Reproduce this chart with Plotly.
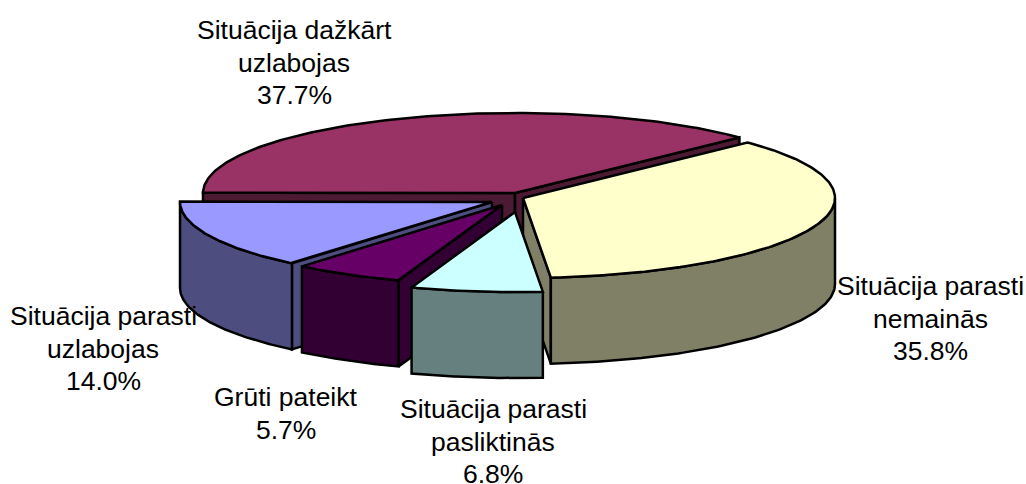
import numpy as np
import plotly.graph_objects as go

# Data: clockwise from the chart's first angle
categories = ["Situācija parasti<br>nemainās", "Situācija parasti<br>pasliktinās", "Grūti pateikt",
              "Situācija parasti<br>uzlabojas", "Situācija dažkārt<br>uzlabojas"]
values = [35.8, 6.8, 5.7, 14.0, 37.7]

# Style
top_colors = ["#FFFFCC", "#CCFFFF", "#660066", "#9999FF", "#993366"]
side_colors = ["#808066", "#668080", "#330033", "#4D4D80", "#4D1A33"]
apex_x = [523, 515, 502, 492, 515]
apex_y = [198, 212, 205, 202, 193]
label_x = [930, 493, 286, 103, 294]
label_top = [286, 409, 397, 316, 30]
LINE_STEP = 32.5
draw_order = [4, 3, 0, 2, 1]
START = 46.0
RX, RY, DEPTH = 312, 80, 86
LW = 2.5

fig = go.Figure()


def poly(xs, ys, color):
    fig.add_trace(go.Scatter(x=list(xs), y=list(ys), mode="lines", fill="toself", fillcolor=color,
                             line=dict(color="black", width=LW), hoverinfo="skip", showlegend=False))


def rim(cx, cy, deg):
    r = np.radians(deg)
    return cx + RX * np.sin(r), cy - RY * np.cos(r)


total = sum(values)
edges = START + np.concatenate([[0], np.cumsum(values)]) * 360 / total

for i in draw_order:
    a, b = edges[i], edges[i + 1]
    cx, cy = apex_x[i], apex_y[i]
    # cut faces that look towards the viewer
    visible = []
    if np.sin(np.radians(a)) < -1e-6:
        visible.append(a)
    if np.sin(np.radians(b)) > 1e-6:
        visible.append(b)
    for ang in visible:
        x, y = rim(cx, cy, ang)
        poly([cx, x, x, cx, cx], [cy, y, y + DEPTH, cy + DEPTH, cy], side_colors[i])
    # outer wall (front half only)
    lo, hi = max(a, 90), min(b, 270)
    if hi > lo:
        t = np.linspace(lo, hi, 80)
        x, y = rim(cx, cy, t)
        poly(np.r_[x, x[::-1], x[0]], np.r_[y, y[::-1] + DEPTH, y[0]], side_colors[i])
    # top
    t = np.linspace(a, b, 160)
    x, y = rim(cx, cy, t)
    poly(np.r_[cx, x, cx], np.r_[cy, y, cy], top_colors[i])

for i, (c, v) in enumerate(zip(categories, values)):
    for k, line in enumerate(c.split("<br>") + [f"{v:.1f}%"]):
        fig.add_annotation(x=label_x[i], y=label_top[i] + k * LINE_STEP, text=line, showarrow=False,
                           xanchor="center", yanchor="middle", align="center",
                           font=dict(family="Liberation Sans, Arial", size=26.5, color="black"))

fig.update_layout(width=1026, height=484, margin=dict(l=0, r=0, t=0, b=0),
                  paper_bgcolor="white", plot_bgcolor="white", showlegend=False,
                  xaxis=dict(range=[0, 1026], visible=False, fixedrange=True),
                  yaxis=dict(range=[484, 0], visible=False, fixedrange=True))
fig.write_html("out.html", config=dict(displayModeBar=False),
               post_script="document.body.style.margin='0';document.documentElement.style.overflow='hidden';")
